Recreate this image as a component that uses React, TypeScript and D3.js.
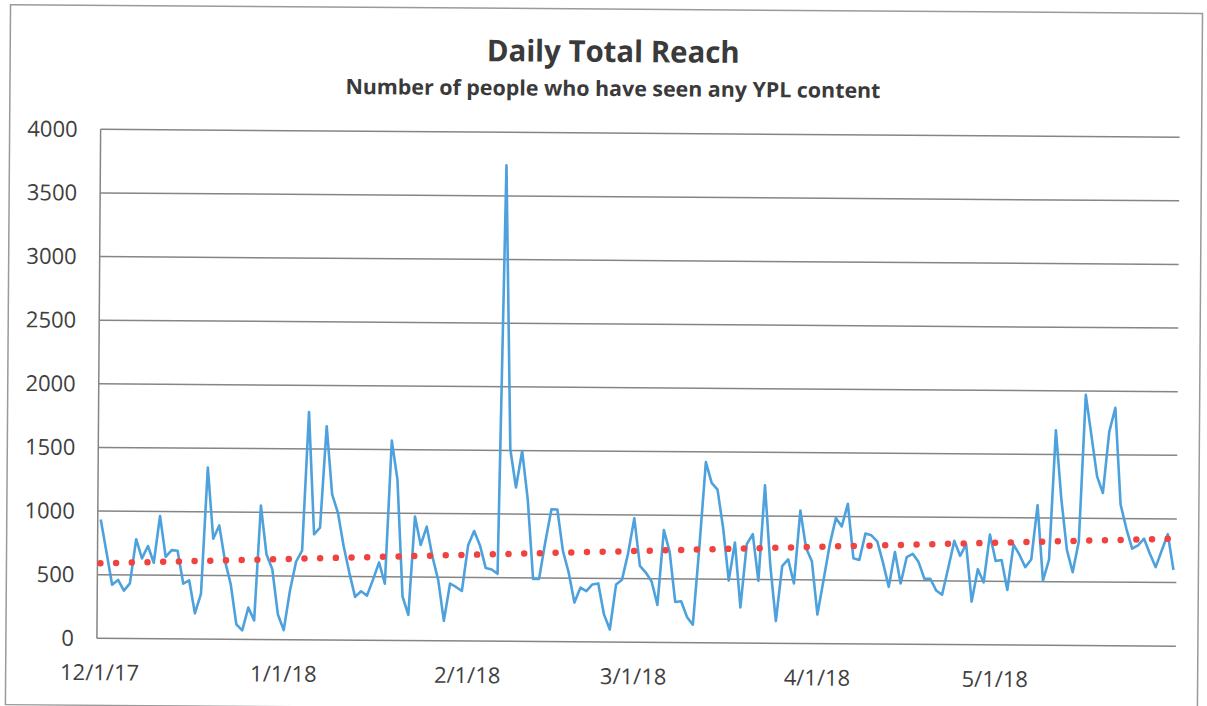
import React from 'react';
import * as d3 from 'd3';

// Daily total reach, one value per day starting 12/1/17
const reachDec = [934, 680, 421, 460, 376, 434, 781, 631, 728, 597, 965, 644, 697, 692, 434, 460, 202, 355, 1349, 789, 894, 618, 434, 118, 71, 250, 150, 1052, 670, 552, 197];
const reachJan = [75, 385, 613, 700, 1790, 830, 883, 1680, 1145, 1000, 739, 529, 340, 385, 351, 477, 613, 445, 1570, 1263, 346, 202, 975, 752, 896, 660, 477, 157, 451, 424, 393];
const reachFeb = [752, 865, 752, 574, 564, 530, 3740, 1509, 1209, 1496, 1117, 491, 491, 778, 1039, 1039, 713, 543, 308, 426, 399, 452, 460, 217, 99, 452, 491, 700];
const reachMar = [974, 600, 548, 478, 295, 883, 712, 319, 325, 202, 141, 750, 1420, 1257, 1204, 900, 490, 790, 280, 777, 856, 490, 1240, 607, 175, 607, 660, 471, 1045, 751, 647];
const reachApr = [228, 502, 780, 987, 922, 1100, 673, 660, 867, 854, 807, 640, 450, 724, 477, 685, 711, 646, 516, 516, 424, 391, 600, 815, 698, 789, 339, 594, 490, 867];
const reachMay = [659, 667, 432, 789, 710, 613, 673, 1100, 508, 673, 1690, 1150, 751, 576, 817, 1970, 1650, 1330, 1200, 1680, 1870, 1110, 922, 764, 791, 843, 725, 620, 751, 880, 600];
const reach = [...reachDec, ...reachJan, ...reachFeb, ...reachMar, ...reachApr, ...reachMay];

// linear trend line end values (first day, last day)
const trendEnds = [590, 845];

const yTicks = [0, 500, 1000, 1500, 2000, 2500, 3000, 3500, 4000];
const monthTicks = [
  [2017, 11], [2018, 0], [2018, 1], [2018, 2], [2018, 3], [2018, 4],
];

const title = 'Daily Total Reach';
const subtitle = 'Number of people who have seen any YPL content';

export default function App() {
  const W = 1207, H = 706;
  const left = 99, right = 1178, top = 133, bottom = 642;
  const t0 = new Date(Date.UTC(2017, 11, 1));
  const dates = reach.map((_, i) => d3.utcDay.offset(t0, i));
  const x = d3.scaleUtc().domain([t0, d3.utcDay.offset(t0, reach.length)]).range([left, right]);
  const cx = (d: Date) => x(d3.utcHour.offset(d, 12));
  const y = d3.scaleLinear().domain([0, 4000]).range([bottom, top]);

  const line = d3.line<number>().x((_, i) => cx(dates[i])).y(d => y(d));
  const trendPts: [Date, number][] = [[dates[0], trendEnds[0]], [dates[dates.length - 1], trendEnds[1]]];
  const trendLine = d3.line<[Date, number]>().x(d => cx(d[0])).y(d => y(d[1]));
  const fmt = d3.utcFormat('%-m/%-d/%y');
  const font = '"Open Sans", "DejaVu Sans", sans-serif';

  return (
    <svg width={W} height={H} style={{ position: 'absolute', left: 0, top: 0, background: '#fff' }}>
      <rect x={0} y={0} width={W} height={H} fill="#fff" />
      <g transform="rotate(0.42 603 353)">
        <rect x={8} y={9} width={1192} height={700} fill="none" stroke="#9a9a9a" strokeWidth={1.5} />
        <text x={611} y={62} textAnchor="middle" fontFamily={font} fontWeight={700} fontSize={30}
          fill="#3a3a3a" textLength={253} lengthAdjust="spacingAndGlyphs">{title}</text>
        <text x={611} y={96} textAnchor="middle" fontFamily={font} fontWeight={700} fontSize={21}
          fill="#3a3a3a" textLength={535} lengthAdjust="spacingAndGlyphs">{subtitle}</text>
        {yTicks.map(t => (
          <g key={t}>
            <line x1={left} x2={right} y1={y(t)} y2={y(t)} stroke="#858585" strokeWidth={1.5} />
            <text x={76} y={y(t)} dy="0.35em" textAnchor="end" fontFamily={font} fontSize={22} fill="#404040">{t}</text>
          </g>
        ))}
        <line x1={left} x2={left} y1={top} y2={bottom} stroke="#858585" strokeWidth={1.5} />
        {monthTicks.map(([yy, mm]) => {
          const d = new Date(Date.UTC(yy, mm, 1));
          return (
            <text key={fmt(d)} x={cx(d)} y={684} textAnchor="middle" fontFamily={font} fontSize={22} fill="#404040">{fmt(d)}</text>
          );
        })}
        <path d={line(reach) || ''} fill="none" stroke="#4da1dd" strokeWidth={2.6} strokeLinejoin="round" />
        <path d={trendLine(trendPts) || ''} fill="none" stroke="#f0433f" strokeWidth={6.5}
          strokeDasharray="0 15.7" strokeLinecap="round" />
      </g>
    </svg>
  );
}
